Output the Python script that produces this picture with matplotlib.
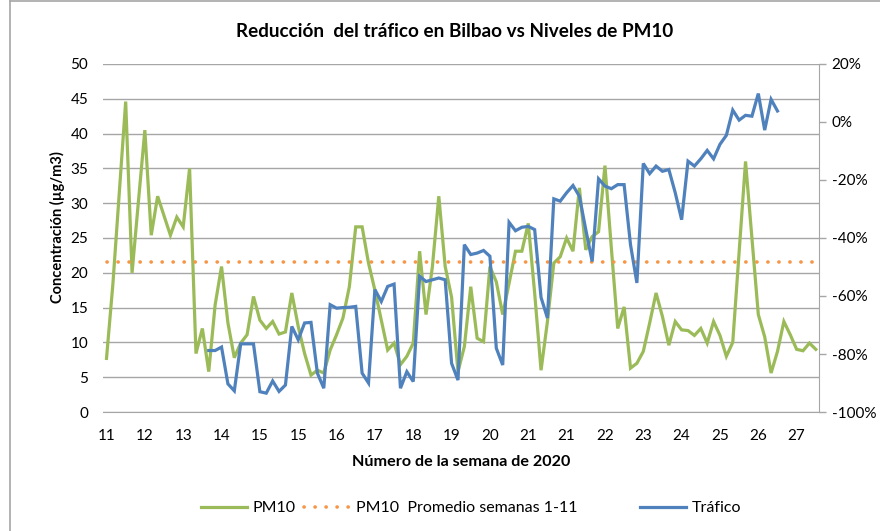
import numpy as np
import matplotlib
matplotlib.use('Agg')
import matplotlib.pyplot as plt
from matplotlib.lines import Line2D
from matplotlib.ticker import FuncFormatter

plt.rcParams['font.family'] = ['Lato', 'DejaVu Sans']

# PM10 diario (ug/m3), desde la semana 11
pm10 = [7.7, 18.4, 31.5, 44.6, 20.0, 30.3, 40.5, 25.4, 31.0, 28.2,
        25.4, 28.0, 26.6, 35.0, 8.4, 12.0, 5.8, 15.4, 20.9, 12.8,
        7.8, 9.9, 11.1, 16.6, 13.2, 12.0, 13.0, 11.2, 11.5, 17.1,
        12.3, 8.4, 5.3, 6.0, 5.6, 8.9, 11.1, 13.5, 18.0, 26.6,
        26.6, 21.4, 17.5, 13.2, 8.9, 9.9, 6.8, 8.0, 9.9, 23.1,
        14.0, 20.9, 31.0, 20.9, 16.5, 5.8, 9.4, 18.0, 10.6, 10.1,
        20.9, 18.7, 14.0, 18.5, 23.1, 23.1, 27.1, 17.1, 6.0, 13.0,
        21.4, 22.3, 25.0, 23.1, 32.2, 23.3, 25.2, 25.9, 35.4, 23.6,
        12.0, 15.1, 6.3, 7.0, 8.7, 12.8, 17.1, 13.7, 9.6, 13.0,
        11.8, 11.7, 11.0, 12.0, 9.9, 13.0, 11.0, 8.0, 10.0, 23.0,
        36.0, 25.0, 14.0, 10.8, 5.6, 8.7, 13.0, 11.1, 9.0, 8.8,
        9.9, 9.0]

pm10_promedio = 21.5  # promedio semanas 1-11

# variacion del trafico (%), empieza en el dia 16 de la serie
trafico_inicio = 16
trafico = [-78.8, -78.8, -77.6, -90.3, -92.7, -76.5, -76.5, -76.5, -93.0, -93.5,
           -89.3, -92.9, -90.7, -70.5, -75.1, -69.3, -69.1, -86.6, -91.8, -63.0,
           -64.2, -64.0, -63.9, -63.6, -86.6, -90.0, -57.8, -61.9, -56.7, -55.9,
           -91.8, -86.1, -89.5, -53.2, -55.0, -54.4, -53.8, -54.4, -83.2, -89.0,
           -42.3, -45.7, -45.2, -44.3, -46.3, -78.0, -83.8, -34.6, -37.5, -36.3,
           -36.0, -37.1, -60.5, -67.6, -26.5, -27.3, -24.4, -21.9, -25.6, -37.1,
           -48.1, -19.6, -22.1, -23.0, -21.6, -21.6, -42.3, -55.5, -14.3, -17.8,
           -15.2, -17.0, -16.4, -24.4, -33.7, -13.5, -15.2, -12.7, -9.8, -12.7,
           -7.7, -4.6, 4.1, 0.65, 2.3, 2.0, 9.8, -2.8, 7.8, 3.8]

semanas = [11, 12, 13, 14, 15, 15, 16, 17, 18, 19, 20, 21, 21, 22, 23, 24, 25, 26, 27]
paso_etiqueta = 6

verde = '#9BBB59'
naranja = '#F79646'
azul = '#4F81BD'
gris = '#A6A6A6'
punteado = (0, (0.05, 3.0))

x = np.arange(len(pm10))
x_traf = np.arange(trafico_inicio, trafico_inicio + len(trafico))

fig = plt.figure(figsize=(8.8, 5.31), dpi=100)
ax = fig.add_axes([0.1174, 0.2241, 0.9307 - 0.1174, 0.8795 - 0.2241])
ax2 = ax.twinx()

ax.plot(x, pm10, color=verde, lw=2.3, solid_joinstyle='miter', zorder=3)
ax.plot(x, [pm10_promedio] * len(x), color=naranja, lw=2.6,
        linestyle=punteado, dash_capstyle='round', zorder=3)
ax2.plot(x_traf, trafico, color=azul, lw=2.3, solid_joinstyle='miter', zorder=3)

ax.set_xlim(-0.5, len(pm10) - 0.5)
ax.set_ylim(0, 50)
ax.set_yticks(np.arange(0, 51, 5))
ax2.set_ylim(-100, 20)
ax2.set_yticks(np.arange(-100, 21, 20))
ax2.yaxis.set_major_formatter(FuncFormatter(lambda v, p: '%d%%' % v))

ax.set_xticks(np.arange(0, len(semanas) * paso_etiqueta, paso_etiqueta))
ax.set_xticklabels([str(s) for s in semanas])

ax.grid(axis='y', color=gris, lw=1.0)
ax.set_axisbelow(True)

for a in (ax, ax2):
    a.spines['top'].set_visible(False)
    a.spines['left'].set_visible(False)
    a.spines['right'].set_visible(False)
    a.spines['bottom'].set_color(gris)
ax2.spines['right'].set_visible(True)
ax2.spines['right'].set_color(gris)
ax2.spines['bottom'].set_visible(False)

ax.tick_params(axis='y', length=0, pad=11, labelsize=11, colors='black')
ax.tick_params(axis='x', length=0, pad=12, labelsize=11)
ax2.tick_params(axis='y', length=5, width=1, color=gris, pad=4, labelsize=11)

ax.set_ylabel('Concentración (µg/m3)', fontsize=10.5, fontweight='bold')
ax.yaxis.set_label_coords(-0.054, 0.53)
ax.set_xlabel('Número de la semana de 2020', fontsize=11.6, fontweight='bold', labelpad=9)
fig.suptitle('Reducción  del tráfico en Bilbao vs Niveles de PM10', x=0.517, y=0.957,
             fontsize=13.6, fontweight='bold')

# leyenda: dos bloques como en Excel
h_pm10 = Line2D([], [], color=verde, lw=2.3)
h_prom = Line2D([], [], color=naranja, lw=2.6, linestyle=punteado, dash_capstyle='round')
h_traf = Line2D([], [], color=azul, lw=2.3)
fig.legend([h_pm10, h_prom], ['PM10', 'PM10  Promedio semanas 1-11'],
           loc='center left', bbox_to_anchor=(201 / 880, 0.043), ncol=2, frameon=False,
           fontsize=11.5, handlelength=2.9, columnspacing=0.5, handletextpad=0.35,
           borderpad=0, borderaxespad=0)
fig.legend([h_traf], ['Tráfico'],
           loc='center left', bbox_to_anchor=(640 / 880, 0.043), frameon=False,
           fontsize=11.5, handlelength=2.9, handletextpad=0.35,
           borderpad=0, borderaxespad=0)

# borde del area del grafico
fig.add_artist(Line2D([0.0114, 0.0114], [0, 0.998], color=gris, lw=1.2, transform=fig.transFigure))
fig.add_artist(Line2D([0.0114, 1.0], [0.998, 0.998], color=gris, lw=1.2, transform=fig.transFigure))

fig.savefig('out.png', dpi=100)
